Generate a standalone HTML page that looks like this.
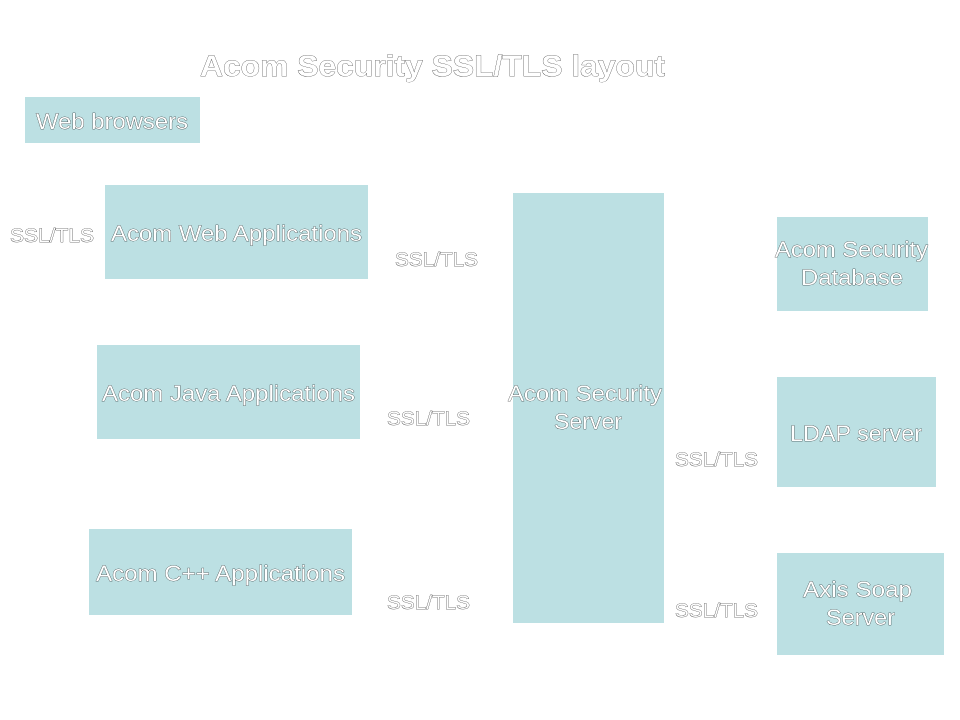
<!DOCTYPE html>
<html><head><meta charset="utf-8"><style>
html,body{margin:0;padding:0;background:#fff;width:960px;height:720px;overflow:hidden}
svg{display:block}
text{font-family:"Liberation Sans",Arial,sans-serif;fill:#fff;stroke:#000;stroke-width:0.5px;paint-order:stroke}
</style></head><body>
<svg width="960" height="720" viewBox="0 0 960 720" xmlns="http://www.w3.org/2000/svg">
<g fill="#bce0e3">
<rect x="25" y="97" width="175" height="46"/>
<rect x="105" y="185" width="263" height="94"/>
<rect x="97" y="345" width="263" height="94"/>
<rect x="89" y="529" width="263" height="86"/>
<rect x="513" y="193" width="151" height="430"/>
<rect x="777" y="217" width="151" height="94"/>
<rect x="777" y="377" width="159" height="110"/>
<rect x="777" y="553" width="167" height="102"/>
</g>
<text x="200" y="76" font-size="30" font-weight="bold" textLength="465" lengthAdjust="spacingAndGlyphs">Acom Security SSL/TLS layout</text>
<text x="36" y="129" font-size="22" textLength="152" lengthAdjust="spacingAndGlyphs">Web browsers</text>
<text x="111" y="241" font-size="22" textLength="251" lengthAdjust="spacingAndGlyphs">Acom Web Applications</text>
<text x="102" y="401" font-size="22" textLength="253" lengthAdjust="spacingAndGlyphs">Acom Java Applications</text>
<text x="96" y="581" font-size="22" textLength="249" lengthAdjust="spacingAndGlyphs">Acom C++ Applications</text>
<text x="508" y="401" font-size="22" textLength="154" lengthAdjust="spacingAndGlyphs">Acom Security</text>
<text x="554" y="429" font-size="22" textLength="68" lengthAdjust="spacingAndGlyphs">Server</text>
<text x="775" y="257" font-size="22" textLength="153" lengthAdjust="spacingAndGlyphs">Acom Security</text>
<text x="801" y="285" font-size="22" textLength="102" lengthAdjust="spacingAndGlyphs">Database</text>
<text x="790" y="441" font-size="22" textLength="132" lengthAdjust="spacingAndGlyphs">LDAP server</text>
<text x="803" y="597" font-size="22" textLength="109" lengthAdjust="spacingAndGlyphs">Axis Soap</text>
<text x="826" y="625" font-size="22" textLength="69" lengthAdjust="spacingAndGlyphs">Server</text>
<g font-size="19">
<text x="10" y="242" textLength="84" lengthAdjust="spacingAndGlyphs">SSL/TLS</text>
<text x="395" y="266" textLength="83" lengthAdjust="spacingAndGlyphs">SSL/TLS</text>
<text x="387" y="425" textLength="83" lengthAdjust="spacingAndGlyphs">SSL/TLS</text>
<text x="387" y="609" textLength="83" lengthAdjust="spacingAndGlyphs">SSL/TLS</text>
<text x="675" y="466" textLength="83" lengthAdjust="spacingAndGlyphs">SSL/TLS</text>
<text x="675" y="617" textLength="83" lengthAdjust="spacingAndGlyphs">SSL/TLS</text>
</g>
</svg>
</body></html>
